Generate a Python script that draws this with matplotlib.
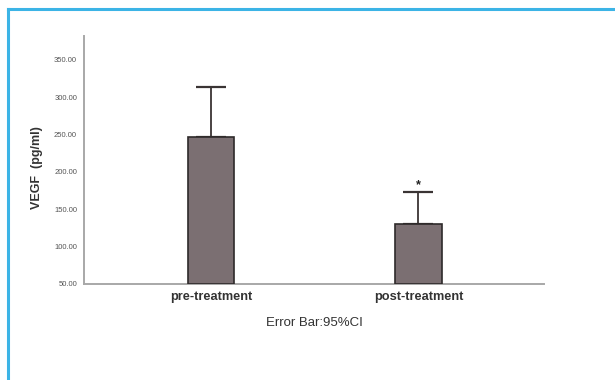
import matplotlib
matplotlib.use('Agg')
import matplotlib.pyplot as plt
import numpy as np

# ===============================================
# data
# ===============================================
groups = ['pre-treatment', 'post-treatment']
means = [247.3, 130.4]
ci_upper = [313.4, 172.8]
y_ticks = [50, 100, 150, 200, 250, 300, 350]

plt.rcParams['font.family'] = ['Liberation Sans', 'DejaVu Sans']

fig = plt.figure(figsize=(6.15, 3.8), dpi=100)

# blue frame along the top and left edge
fig.add_artist(plt.Line2D([8 / 615, 8 / 615], [0, 1 - 9 / 380], color='#3cb4e6', lw=2.2))
fig.add_artist(plt.Line2D([8 / 615, 1], [1 - 9 / 380, 1 - 9 / 380], color='#3cb4e6', lw=2.2))

ax = fig.add_axes([84 / 615, 96 / 380, 460 / 615, 248 / 380])

x = np.arange(len(groups))
base = y_ticks[0]
heights = [m - base for m in means]
err_up = [u - m for u, m in zip(ci_upper, means)]

# error bars first so the bars sit on top of the lower half
ax.errorbar(x, means, yerr=[np.zeros(len(x)), err_up], fmt='none',
            ecolor='#3a3434', elinewidth=1.3, capsize=10.8, capthick=1.6, zorder=2)
ax.bar(x, heights, bottom=base, width=0.222, color='#7b6f72',
       edgecolor='#2e2a2a', linewidth=1.2, zorder=3)

# significance mark over post-treatment
ax.text(x[1], ci_upper[1] + 2, '*', ha='center', va='bottom', fontsize=9,
        fontweight='bold', color='#222222')

ax.set_xlim(-0.612, 1.605)
ax.set_ylim(50, 382)
ax.set_yticks(y_ticks)
ax.set_yticklabels(['%.2f' % v for v in y_ticks], fontsize=5.5, color='#555555')
ax.set_xticks(x)
ax.set_xticklabels(groups, fontsize=9.2, fontweight='bold', color='#333333')
ax.tick_params(axis='both', length=0)
ax.tick_params(axis='y', pad=5)
ax.tick_params(axis='x', pad=5)

for side in ['top', 'right']:
    ax.spines[side].set_visible(False)
for side in ['left', 'bottom']:
    ax.spines[side].set_color('#a8a8a8')
    ax.spines[side].set_linewidth(1.4)

ax.set_ylabel('VEGF  (pg/ml)', fontsize=9, fontweight='bold', color='#333333')
ax.yaxis.set_label_coords(-0.09, 0.47)
ax.set_xlabel('Error Bar:95%CI', fontsize=9.5, color='#333333', labelpad=10)

fig.savefig('out.png', dpi=100)
